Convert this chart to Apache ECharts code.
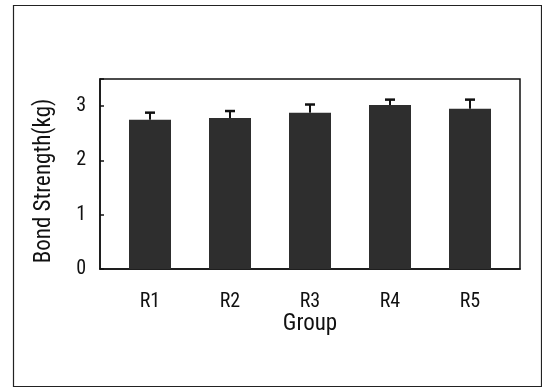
<!DOCTYPE html>
<html><head><meta charset="utf-8">
<script src="https://cdn.jsdelivr.net/npm/echarts@6/dist/echarts.min.js"></script>
<style>html,body{margin:0;padding:0;background:#fff}#c{width:542px;height:388px}</style>
</head><body><div id="c"></div>
<script>
const categories = ['R1','R2','R3','R4','R5'];
const means = [2.75, 2.78, 2.88, 3.02, 2.95];
const errors = [0.13, 0.13, 0.15, 0.10, 0.17];
const yTicks = [0, 1, 2, 3];

const FONT = "'Roboto Condensed', 'DejaVu Sans Condensed', 'Liberation Sans', sans-serif";
const chart = echarts.init(document.getElementById('c'), null, {renderer: 'canvas'});
const barData = means.map((v, i) => [i, v]);
const errData = means.map((v, i) => [i, v, v + errors[i]]);

chart.setOption({
  animation: false,
  backgroundColor: '#fff',
  graphic: [{
    type: 'rect', left: 11, top: 3,
    shape: {width: 528, height: 381},
    style: {fill: 'none', stroke: '#222', lineWidth: 1.2}, silent: true
  }],
  grid: {left: 100, top: 79, width: 420, height: 190, show: true,
         borderColor: '#111', borderWidth: 1.5, backgroundColor: 'transparent'},
  xAxis: {
    type: 'value', min: -0.625, max: 4.625,
    name: 'Group', nameLocation: 'middle', nameGap: 42,
    nameTextStyle: {fontFamily: FONT, fontSize: 23, color: '#111'},
    axisLine: {show: true, onZero: false, lineStyle: {color: '#111', width: 1.5}},
    axisTick: {show: false},
    splitLine: {show: false},
    axisLabel: {
      customValues: [0, 1, 2, 3, 4], margin: 23,
      fontFamily: FONT, fontSize: 20, color: '#111',
      formatter: v => categories[Math.round(v)] || ''
    }
  },
  yAxis: {
    type: 'value', min: 0, max: 3.5, interval: 1,
    name: 'Bond Strength(kg)', nameLocation: 'middle', nameGap: 44,
    nameTextStyle: {fontFamily: FONT, fontSize: 23, color: '#111', padding: [0, 14, 0, 0]},
    axisLine: {show: true, onZero: false, lineStyle: {color: '#111', width: 1.5}},
    axisTick: {show: true, inside: true, length: 4, lineStyle: {color: '#111', width: 1.5}},
    splitLine: {show: false},
    axisLabel: {
      customValues: yTicks, margin: 14,
      fontFamily: FONT, fontSize: 20, color: '#111'
    }
  },
  series: [{
    type: 'bar', data: barData, barWidth: 42,
    itemStyle: {color: '#2e2e2e'}
  }, {
    type: 'custom', data: errData, z: 1,
    renderItem: function (params, api) {
      const x = api.value(0);
      const lo = api.coord([x, api.value(1)]);
      const hi = api.coord([x, api.value(2)]);
      const hw = 5;
      return {
        type: 'group',
        children: [
          {type: 'line', shape: {x1: lo[0], y1: lo[1], x2: hi[0], y2: hi[1]},
           style: {stroke: '#111', lineWidth: 2}},
          {type: 'line', shape: {x1: hi[0] - hw, y1: hi[1], x2: hi[0] + hw, y2: hi[1]},
           style: {stroke: '#111', lineWidth: 2.5}}
        ]
      };
    }
  }]
});
</script></body></html>
